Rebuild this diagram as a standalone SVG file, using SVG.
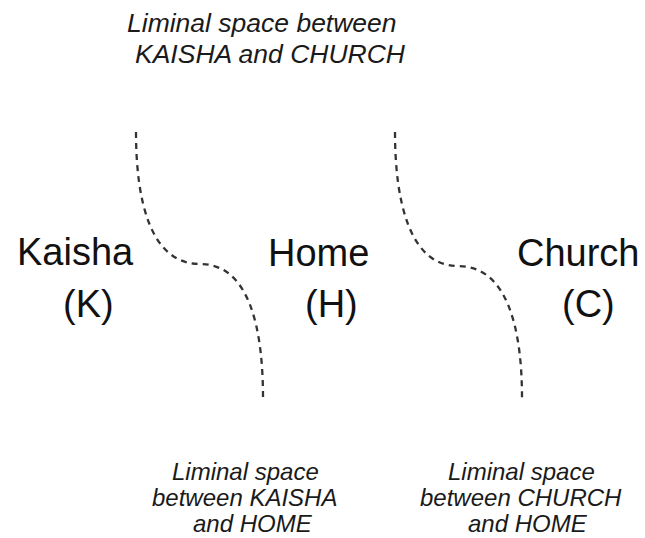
<svg xmlns="http://www.w3.org/2000/svg" width="645" height="538" viewBox="0 0 645 538">
<style>
.big{font-family:"Liberation Sans",Arial,sans-serif;font-size:38px;fill:#111}
.lab{font-family:"Liberation Sans",Arial,sans-serif;font-style:italic;fill:#1a1a1a}
.top{font-size:26.5px}
.bot{font-size:24px}
.dash{fill:none;stroke:#333;stroke-width:2.3;stroke-dasharray:6 5}
</style>
<rect width="645" height="538" fill="#fff"/>
<g id="connectors">
<path class="dash" d="M136,132 C136,200 150,264 200,264 C250,264 263,330 263,398"/>
<path class="dash" d="M395,132 C395,200 409,266 458,266 C508,266 522,330 522,398"/>
</g>
<g id="kaisha">
<text class="big" x="17" y="265">Kaisha</text>
<text class="big" x="63" y="317">(K)</text>
</g>
<g id="home">
<text class="big" x="268" y="266">Home</text>
<text class="big" x="305" y="317">(H)</text>
</g>
<g id="church">
<text class="big" x="517" y="266">Church</text>
<text class="big" x="562" y="317">(C)</text>
</g>
<g id="label-kaisha-church">
<text class="lab top" x="127" y="32">Liminal space between</text>
<text class="lab top" x="135" y="63">KAISHA and CHURCH</text>
</g>
<g id="label-kaisha-home">
<text class="lab bot" x="172" y="480">Liminal space</text>
<text class="lab bot" x="152" y="506">between KAISHA</text>
<text class="lab bot" x="193" y="532">and HOME</text>
</g>
<g id="label-church-home">
<text class="lab bot" x="448" y="480">Liminal space</text>
<text class="lab bot" x="420" y="506">between CHURCH</text>
<text class="lab bot" x="468" y="532">and HOME</text>
</g>
</svg>
